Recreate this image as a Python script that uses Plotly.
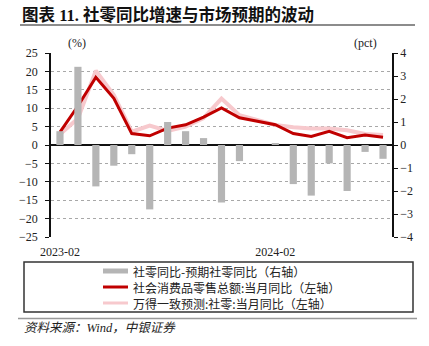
import plotly.graph_objects as go

# Monthly retail sales data (2024-01 is reported jointly with February)
months = ["2023-02", "2023-03", "2023-04", "2023-05", "2023-06", "2023-07",
          "2023-08", "2023-09", "2023-10", "2023-11", "2023-12", "2024-01",
          "2024-02", "2024-03", "2024-04", "2024-05", "2024-06", "2024-07",
          "2024-08"]
retail_yoy = [3.5, 10.6, 18.4, 12.7, 3.1, 2.5, 4.6, 5.5, 7.6, 10.1, 7.4, None,
              5.5, 3.1, 2.3, 3.7, 2.0, 2.7, 2.1]
consensus_yoy = [2.9, 7.2, 20.2, 13.6, 3.6, 5.3, 3.8, 5.0, 7.3, 12.6, 8.1, None,
                 5.45, 4.8, 4.5, 4.5, 4.0, 3.0, 2.7]
surprise_pct = [0.6, 3.4, -1.8, -0.9, -0.4, -2.8, 1.0, 0.6, 0.3, -2.5, -0.7, None,
                0.05, -1.7, -2.2, -0.8, -2.0, -0.3, -0.6]
x_ticks = ["2023-02", "2024-02"]

names = ["社零同比-预期社零同比（右轴）",
         "社会消费品零售总额:当月同比（左轴）",
         "万得一致预测:社零:当月同比（左轴）"]

GREY = "#b5b5b5"
RED = "#c00000"
PINK = "#f7c9cd"
SERIF = "Liberation Serif, Noto Sans CJK SC"
CJK = "Noto Sans CJK SC"

W, H = 429, 346
L, R, T, B = 51, 37, 53, 109
PW, PH = W - L - R, H - T - B


def px(x):
    return (x - L) / PW


def py(y):
    return (H - B - y) / PH


fig = go.Figure()
fig.add_trace(go.Bar(x=months, y=surprise_pct, yaxis="y2", marker_color=GREY,
                     marker_line_width=0, name=names[0], showlegend=False))
fig.add_trace(go.Scatter(x=months, y=consensus_yoy, mode="lines", connectgaps=True,
                         line=dict(color=PINK, width=4), name=names[2],
                         showlegend=False))
fig.add_trace(go.Scatter(x=months, y=retail_yoy, mode="lines", connectgaps=True,
                         line=dict(color=RED, width=3), name=names[1],
                         showlegend=False))

fig.update_layout(
    width=W, height=H,
    margin=dict(l=L, r=R, t=T, b=B),
    paper_bgcolor="white", plot_bgcolor="white",
    bargap=0.6,
    font=dict(family=SERIF, size=12, color="#222"),
    xaxis=dict(type="category", tickvals=x_ticks, ticktext=x_ticks,
               showgrid=False, showline=False, ticks="", zeroline=False,
               ticklabelstandoff=6, range=[-0.5, len(months) - 0.5]),
    yaxis=dict(range=[-25, 25], dtick=5, showgrid=True, gridcolor="#a8a8a8",
               griddash="dot", gridwidth=1, zeroline=True, zerolinecolor="#111",
               zerolinewidth=1.5, showline=True, linecolor="#111", linewidth=1.5,
               ticks="outside", ticklen=4, tickcolor="#111",
               ticklabelstandoff=5),
    yaxis2=dict(range=[-4, 4], dtick=1, overlaying="y", side="right",
                showgrid=False, zeroline=False, showline=True, linecolor="#111",
                linewidth=1.5, ticks="outside", ticklen=4, tickcolor="#111"),
)

shapes = []
annotations = []

# Title and rule beneath it
annotations.append(dict(text="<b>图表 11. 社零同比增速与市场预期的波动</b>",
                        x=px(20), y=py(15), xref="paper", yref="paper",
                        xanchor="left", yanchor="middle", showarrow=False,
                        font=dict(family=SERIF, size=16.5, color="#111")))
shapes.append(dict(type="line", xref="paper", yref="paper", x0=px(20), x1=px(415),
                   y0=py(25), y1=py(25), line=dict(color="#8c8c8c", width=2)))

# Axis unit labels
annotations.append(dict(text="(%)", x=px(77), y=py(43), xref="paper", yref="paper",
                        showarrow=False, xanchor="center", yanchor="middle",
                        font=dict(family=SERIF, size=12, color="#222")))
annotations.append(dict(text="(pct)", x=px(365), y=py(43), xref="paper", yref="paper",
                        showarrow=False, xanchor="center", yanchor="middle",
                        font=dict(family=SERIF, size=12, color="#222")))

# Legend box with samples
shapes.append(dict(type="rect", xref="paper", yref="paper", x0=px(24), x1=px(413),
                   y0=py(262), y1=py(312), line=dict(color="#333", width=1.5)))
legend_rows = [(271, GREY, 5), (287, RED, 3), (303, PINK, 3)]
for name, (yy, col, lw) in zip(names, legend_rows):
    shapes.append(dict(type="line", xref="paper", yref="paper", x0=px(103),
                       x1=px(128), y0=py(yy), y1=py(yy),
                       line=dict(color=col, width=lw)))
    annotations.append(dict(text=name, x=px(131), y=py(yy), xref="paper",
                            yref="paper", xanchor="left", yanchor="middle",
                            showarrow=False,
                            font=dict(family=CJK, size=12, color="#222")))

# Source note
shapes.append(dict(type="line", xref="paper", yref="paper", x0=px(18), x1=px(417),
                   y0=py(318.5), y1=py(318.5), line=dict(color="#999", width=1.5)))
annotations.append(dict(text="<i>资料来源：Wind，中银证券</i>", x=px(22), y=py(328),
                        xref="paper", yref="paper", xanchor="left",
                        yanchor="middle", showarrow=False,
                        font=dict(family=SERIF, size=12.5, color="#222")))

fig.update_layout(shapes=shapes, annotations=annotations)
fig.write_html("out.html")
